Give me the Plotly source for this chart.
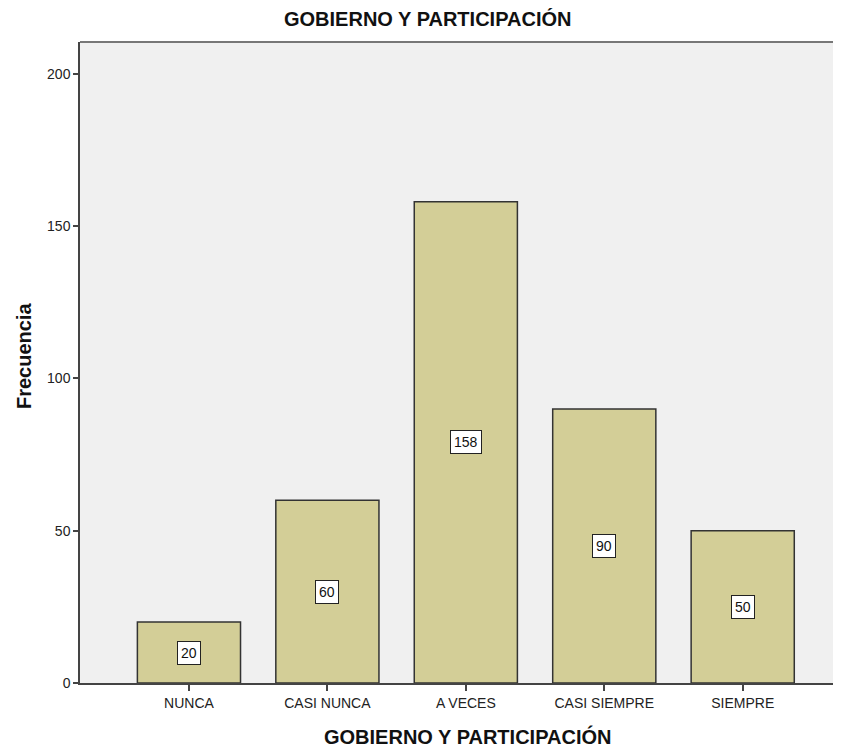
import plotly.graph_objects as go

categories = ["NUNCA", "CASI NUNCA", "A VECES", "CASI SIEMPRE", "SIEMPRE"]
values = [20, 60, 158, 90, 50]
y_ticks = [0, 50, 100, 150, 200]
title_text = "GOBIERNO Y PARTICIPACIÓN"
x_title = "GOBIERNO Y PARTICIPACIÓN"
y_title = "Frecuencia"

FONT = "Liberation Sans, Arial, sans-serif"

fig = go.Figure()
fig.add_trace(go.Bar(
    x=categories, y=values,
    marker=dict(color="#D3CE97", line=dict(color="#333333", width=1.5)),
    width=0.745,
    hoverinfo="x+y",
))

for c, v in zip(categories, values):
    fig.add_annotation(
        x=c, y=v / 2, text=str(v), showarrow=False,
        font=dict(family=FONT, size=14, color="#111"),
        bgcolor="white", bordercolor="#222", borderwidth=1, borderpad=3,
    )

# titles as annotations for exact placement
fig.add_annotation(xref="paper", yref="paper", x=0.457, y=1.036, text="<b>" + title_text + "</b>",
                   showarrow=False, xanchor="center", yanchor="middle",
                   font=dict(family=FONT, size=20, color="#111"))
fig.add_annotation(xref="paper", yref="paper", x=0.5086, y=-0.084, text="<b>" + x_title + "</b>",
                   showarrow=False, xanchor="center", yanchor="middle",
                   font=dict(family=FONT, size=20, color="#111"))
fig.add_annotation(xref="paper", yref="paper", x=-0.0736, y=0.51, text="<b>" + y_title + "</b>",
                   showarrow=False, xanchor="center", yanchor="middle", textangle=-90,
                   font=dict(family=FONT, size=20, color="#111"))

fig.update_layout(
    width=833, height=743,
    paper_bgcolor="white", plot_bgcolor="#F0F0F0",
    margin=dict(l=72, r=0, t=34, b=68),
    font=dict(family=FONT, color="#222"),
    showlegend=False,
)
fig.update_xaxes(
    range=[-0.787, 4.71], showgrid=False, zeroline=False,
    showline=True, linecolor="#444", linewidth=1.5,
    ticks="outside", ticklen=6, tickcolor="#444", tickwidth=1.5,
    tickfont=dict(family=FONT, size=14, color="#222"),
)
fig.update_yaxes(
    range=[0, 210.5], tickvals=y_ticks, showgrid=False, zeroline=False,
    showline=True, linecolor="#444", linewidth=1.5,
    ticks="outside", ticklen=5, tickcolor="#444", tickwidth=1.5,
    tickfont=dict(family=FONT, size=14, color="#222"),
)
fig.add_shape(type="line", xref="paper", yref="paper", x0=0, x1=1, y0=1, y1=1,
              line=dict(color="#777", width=2))

fig.write_html("out.html")
